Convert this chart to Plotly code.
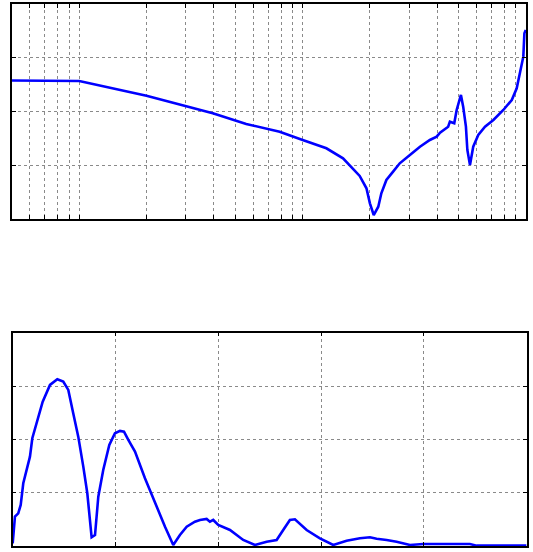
import plotly.graph_objects as go
from plotly.subplots import make_subplots

# Top panel: frequency response (log frequency axis)
freq = [5, 10, 20, 28.1, 39.6, 55.9, 78.9, 100, 127.7, 151.6, 180, 193, 200, 208, 218,
        225, 237, 254, 272, 302, 335, 371, 398, 412, 448, 456, 477, 489, 511, 523,
        538, 546, 561, 580, 611, 655, 714, 791, 863, 908, 940, 972, 983, 997]
mag = [2.577, 2.567, 2.294, 2.136, 1.967, 1.767, 1.624, 1.470, 1.315, 1.129, 0.800, 0.571,
       0.292, 0.074, 0.229, 0.478, 0.726, 0.880, 1.036, 1.191, 1.345, 1.470, 1.531, 1.606,
       1.717, 1.810, 1.780, 2.028, 2.307, 2.089, 1.717, 1.284, 1.005, 1.345, 1.563, 1.717,
       1.842, 2.028, 2.214, 2.432, 2.711, 3.020, 3.455, 3.516]

# Bottom panel: linear axis
t = [0, 0.022, 0.054, 0.078, 0.103, 0.168, 0.191, 0.233, 0.292, 0.363, 0.434, 0.492,
     0.541, 0.589, 0.638, 0.687, 0.726, 0.768, 0.801, 0.833, 0.881, 0.940, 0.995, 1.044,
     1.083, 1.125, 1.190, 1.287, 1.384, 1.482, 1.562, 1.627, 1.693, 1.773, 1.822, 1.887,
     1.919, 1.951, 2.000, 2.114, 2.243, 2.357, 2.471, 2.568, 2.632, 2.697, 2.746, 2.795,
     2.860, 2.989, 3.119, 3.249, 3.378, 3.476, 3.541, 3.638, 3.735, 3.865, 3.994, 4.448,
     4.514, 5.0]
amp = [0.05, 0.550, 0.613, 0.769, 1.176, 1.675, 2.021, 2.302, 2.707, 3.021, 3.128, 3.083,
       2.927, 2.490, 2.051, 1.488, 0.989, 0.163, 0.206, 0.925, 1.426, 1.895, 2.114, 2.158,
       2.144, 1.989, 1.769, 1.270, 0.801, 0.362, 0.019, 0.206, 0.362, 0.456, 0.488, 0.507,
       0.456, 0.488, 0.394, 0.300, 0.113, 0.019, 0.081, 0.113, 0.300, 0.488, 0.501, 0.413,
       0.300, 0.144, 0.019, 0.099, 0.144, 0.163, 0.137, 0.113, 0.081, 0.019, 0.038, 0.038,
       0.006, 0.006]

fig = make_subplots(rows=2, cols=1)
fig.add_trace(go.Scatter(x=freq, y=mag, mode="lines",
                         line=dict(color="#0000ff", width=2.6), showlegend=False), row=1, col=1)
fig.add_trace(go.Scatter(x=t, y=amp, mode="lines",
                         line=dict(color="#0000ff", width=2.6), showlegend=False), row=2, col=1)

axis_common = dict(showline=True, linecolor="black", linewidth=1.5, mirror="allticks",
                   ticks="inside", ticklen=4, tickcolor="black", showticklabels=False,
                   showgrid=True, gridcolor="#8a8a8a", griddash="dot", gridwidth=1,
                   zeroline=False)

fig.update_xaxes(type="log", range=[0.69897, 3.0], dtick="D1", domain=[0.0225, 0.987],
                 **axis_common, row=1, col=1)
fig.update_yaxes(range=[0, 4], dtick=1, domain=[0.6033, 0.9928], **axis_common, row=1, col=1)
fig.update_xaxes(range=[0, 5], dtick=1, domain=[0.0238, 0.988], **axis_common, row=2, col=1)
fig.update_yaxes(range=[0, 4], dtick=1, domain=[0.0109, 0.3973], **axis_common, row=2, col=1)

fig.update_layout(width=533, height=552, margin=dict(l=0, r=0, t=0, b=0),
                  paper_bgcolor="white", plot_bgcolor="white")
fig.write_html("out.html", config={"displayModeBar": False},
               post_script="document.body.style.margin='0';")
